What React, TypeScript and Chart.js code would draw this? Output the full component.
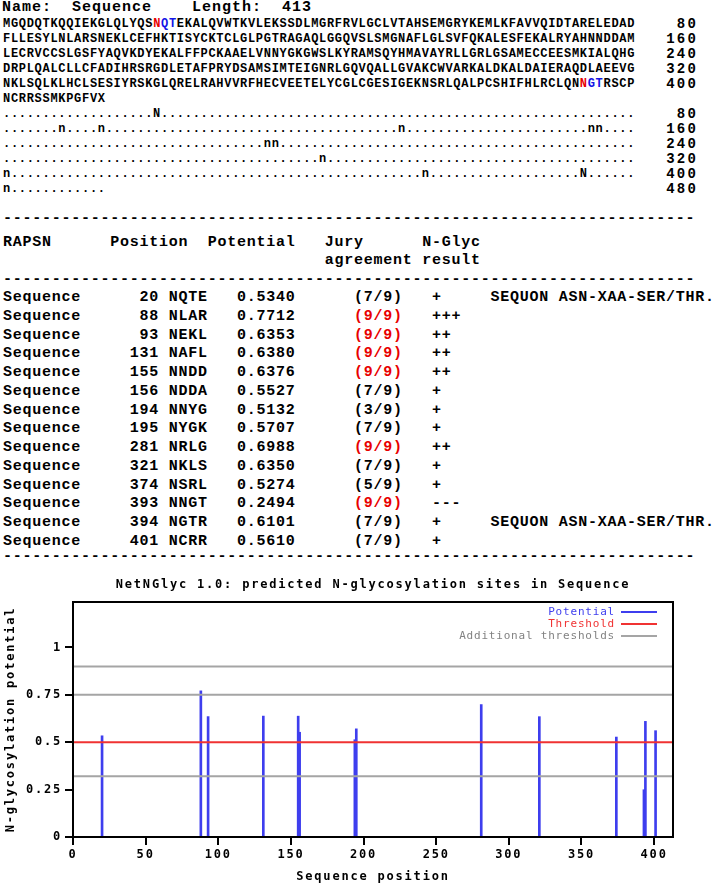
import React, { useEffect, useRef } from 'react';
import { Chart, registerables } from 'chart.js';

Chart.register(...registerables);

// ---------------- data ----------------
const seqName = 'Sequence';
const seqLength = 413;
const proteinName = 'RAPSN';

const seqLines = [
  'MGQDQTKQQIEKGLQLYQSNQTEKALQVWTKVLEKSSDLMGRFRVLGCLVTAHSEMGRYKEMLKFAVVQIDTARELEDAD',
  'FLLESYLNLARSNEKLCEFHKTISYCKTCLGLPGTRAGAQLGGQVSLSMGNAFLGLSVFQKALESFEKALRYAHNNDDAM',
  'LECRVCCSLGSFYAQVKDYEKALFFPCKAAELVNNYGKGWSLKYRAMSQYHMAVAYRLLGRLGSAMECCEESMKIALQHG',
  'DRPLQALCLLCFADIHRSRGDLETAFPRYDSAMSIMTEIGNRLGQVQALLGVAKCWVARKALDKALDAIERAQDLAEEVG',
  'NKLSQLKLHCLSESIYRSKGLQRELRAHVVRFHECVEETELYCGLCGESIGEKNSRLQALPCSHIFHLRCLQNNGTRSCP',
  'NCRRSSMKPGFVX',
];
const seqLineEnds = ['80', '160', '240', '320', '400', ''];

const markLines = [
  '...................N............................................................',
  '.......n....n.....................................n.......................nn....',
  '.................................nn.............................................',
  '........................................n.......................................',
  'n....................................................n...................N......',
  'n............',
];
const markLineEnds = ['80', '160', '240', '320', '400', '480'];

const sitePositions = [20, 88, 93, 131, 155, 156, 194, 195, 281, 321, 374, 393, 394, 401];
const siteMotifs = ['NQTE', 'NLAR', 'NEKL', 'NAFL', 'NNDD', 'NDDA', 'NNYG', 'NYGK', 'NRLG', 'NKLS', 'NSRL', 'NNGT', 'NGTR', 'NCRR'];
const sitePotentials = [0.534, 0.7712, 0.6353, 0.638, 0.6376, 0.5527, 0.5132, 0.5707, 0.6988, 0.635, 0.5274, 0.2494, 0.6101, 0.561];
const siteJury = ['(7/9)', '(9/9)', '(9/9)', '(9/9)', '(9/9)', '(7/9)', '(3/9)', '(7/9)', '(9/9)', '(7/9)', '(5/9)', '(9/9)', '(7/9)', '(7/9)'];
const siteResults = ['+', '+++', '++', '++', '++', '+', '+', '+', '++', '+', '+', '---', '+', '+'];
const siteComments = ['SEQUON ASN-XAA-SER/THR.', '', '', '', '', '', '', '', '', '', '', '', 'SEQUON ASN-XAA-SER/THR.', ''];

const chartTitle = 'NetNGlyc 1.0: predicted N-glycosylation sites in Sequence';
const xAxisTitle = 'Sequence position';
const yAxisTitle = 'N-glycosylation potential';
const thresholdValue = 0.5;
const additionalThresholds = [0.32, 0.75, 0.9];
const legendLabels = ['Potential', 'Threshold', 'Additional thresholds'];
const xTickStep = 50;
const yTickStep = 0.25;
const yMax = 1.24;

// ---------------- styles ----------------
const MONO = '"Liberation Mono", "DejaVu Sans Mono", monospace';
const CHART_FONT = '"DejaVu Sans Mono", monospace';
const RED_TXT = '#e80000';
const BLUE_TXT = '#1414e6';
const BAR_BLUE = 'rgb(62,62,238)';
const LINE_RED = 'rgb(240,50,50)';
const LINE_GRAY = 'rgb(165,165,165)';
const LEGEND_COLORS = [BAR_BLUE, LINE_RED, 'rgb(130,130,130)'];

type LineProps = {
  x?: number;
  right?: number;
  y: number;
  size: number;
  pitch: number;
  lh?: number;
  children: any;
};

function TextLine({ x, right, y, size, pitch, lh, children }: LineProps) {
  const h = lh ?? Math.round(size * 1.3);
  const style: any = {
    position: 'absolute',
    top: y - h / 2,
    height: h,
    lineHeight: h + 'px',
    fontSize: size,
    letterSpacing: (pitch - 0.6 * size).toFixed(2) + 'px',
    fontFamily: MONO,
    fontWeight: 700,
    whiteSpace: 'pre',
    color: '#000',
  };
  if (right !== undefined) {
    style.left = right - 200;
    style.width = 200;
    style.textAlign = 'right';
  } else {
    style.left = x;
  }
  return <div style={style}>{children}</div>;
}

const sequonSites = sitePositions.filter((_, i) => siteComments[i].indexOf('SEQUON') === 0);

function renderSeq(line: string, start: number) {
  const colorAt = (pos: number) =>
    sequonSites.includes(pos) ? RED_TXT : sequonSites.includes(pos - 1) || sequonSites.includes(pos - 2) ? BLUE_TXT : '';
  const parts: any[] = [];
  let buf = '';
  let cur = '';
  for (let i = 0; i < line.length; i++) {
    const c = colorAt(start + i);
    if (c !== cur && buf) {
      parts.push(<span key={parts.length} style={cur ? { color: cur } : undefined}>{buf}</span>);
      buf = '';
    }
    cur = c;
    buf += line[i];
  }
  if (buf) parts.push(<span key={parts.length} style={cur ? { color: cur } : undefined}>{buf}</span>);
  return parts;
}

function TextBlock() {
  const seqY = (k: number) => 24 + 15 * k;
  const rowY = (k: number) => 298.3 + 18.72 * k;
  const dashes = '-'.repeat(71);
  const TABLE = { size: 15, pitch: 9.75 };
  return (
    <>
      <TextLine x={2} y={8} size={15} pitch={10}>
        {`Name:  ${seqName}    Length:  ${seqLength}`}
      </TextLine>
      {seqLines.map((l, k) => (
        <TextLine key={'s' + k} x={3} y={seqY(k)} size={12} pitch={7.9}>
          {renderSeq(l, k * 80 + 1)}
        </TextLine>
      ))}
      {seqLineEnds.map((t, k) =>
        t ? (
          <TextLine key={'se' + k} right={698} y={seqY(k)} size={14} pitch={10.6}>
            {t}
          </TextLine>
        ) : null
      )}
      {markLines.map((l, k) => (
        <TextLine key={'m' + k} x={3} y={seqY(6 + k)} size={12} pitch={7.9}>
          {l}
        </TextLine>
      ))}
      {markLineEnds.map((t, k) => (
        <TextLine key={'me' + k} right={698} y={seqY(6 + k)} size={14} pitch={10.6}>
          {t}
        </TextLine>
      ))}
      <TextLine x={3} y={219} {...TABLE}>{dashes}</TextLine>
      <TextLine x={3} y={242.5} {...TABLE}>
        {`${proteinName}      Position  Potential   Jury      N-Glyc`}
      </TextLine>
      <TextLine x={3} y={261} {...TABLE}>
        {' '.repeat(33) + 'agreement result'}
      </TextLine>
      <TextLine x={3} y={280} {...TABLE}>{dashes}</TextLine>
      {sitePositions.map((p, k) => {
        const jury = siteJury[k];
        const strong = jury === '(9/9)';
        return (
          <TextLine key={'r' + k} x={3} y={rowY(k)} {...TABLE}>
            {`${seqName}${String(p).padStart(8)} ${siteMotifs[k]}   ${sitePotentials[k].toFixed(4)}      `}
            <span style={strong ? { color: RED_TXT } : undefined}>{jury}</span>
            {`   ${siteResults[k].padEnd(6)}${siteComments[k]}`}
          </TextLine>
        );
      })}
      <TextLine x={3} y={557} {...TABLE}>{dashes}</TextLine>
    </>
  );
}

function GlycChart() {
  const ref = useRef<HTMLCanvasElement>(null);
  useEffect(() => {
    const canvas = ref.current;
    if (!canvas) return;
    const SPACING = '1.8px';
    const spacingPlugin = {
      id: 'spacing',
      beforeUpdate(c: any) {
        c.ctx.letterSpacing = SPACING;
      },
      beforeDraw(c: any) {
        c.ctx.letterSpacing = SPACING;
      },
    };
    const overlayPlugin = {
      id: 'frameAndLegend',
      afterDraw(c: any) {
        const { ctx, chartArea: a } = c;
        ctx.save();
        ctx.strokeStyle = '#000';
        ctx.lineWidth = 2;
        ctx.strokeRect(a.left, a.top, a.right - a.left, a.bottom - a.top);
        ctx.restore();

        ctx.save();
        ctx.font = `11px ${CHART_FONT}`;
        ctx.letterSpacing = '0.8px';
        ctx.textAlign = 'right';
        ctx.textBaseline = 'middle';
        legendLabels.forEach((label, i) => {
          const y = a.top + 10 + i * 12;
          const col = LEGEND_COLORS[i];
          ctx.fillStyle = col;
          ctx.fillText(label, a.right - 58, y);
          ctx.strokeStyle = i === 2 ? LINE_GRAY : col;
          ctx.lineWidth = 2;
          ctx.beginPath();
          ctx.moveTo(a.right - 52, y);
          ctx.lineTo(a.right - 16, y);
          ctx.stroke();
        });
        ctx.restore();
      },
    };

    const hLine = (v: number, color: string, label: string) => ({
      type: 'line' as const,
      label,
      data: [
        { x: 0, y: v },
        { x: seqLength, y: v },
      ],
      borderColor: color,
      borderWidth: 2,
      pointRadius: 0,
      fill: false,
      order: 0,
    });

    const tickFont = { family: CHART_FONT, size: 12, weight: 'bold' as const };

    const chart = new Chart(canvas, {
      type: 'bar',
      data: {
        datasets: [
          hLine(thresholdValue, LINE_RED, 'Threshold'),
          ...additionalThresholds.map((t) => hLine(t, LINE_GRAY, 'Additional thresholds')),
          {
            type: 'bar' as const,
            label: 'Potential',
            data: sitePositions.map((p, i) => ({ x: p, y: sitePotentials[i] })),
            backgroundColor: BAR_BLUE,
            borderWidth: 0,
            barThickness: 2,
            order: 1,
          },
        ] as any,
      },
      options: {
        responsive: false,
        animation: false,
        devicePixelRatio: 1,
        layout: { padding: { left: 0, right: 39, top: 0, bottom: 0 } },
        plugins: {
          legend: { display: false },
          tooltip: { enabled: false },
          title: {
            display: true,
            text: chartTitle,
            color: '#000',
            fullSize: false,
            font: { family: CHART_FONT, size: 12, weight: 'bold' },
            padding: { top: 13, bottom: 9.6 },
          },
        },
        scales: {
          x: {
            type: 'linear',
            min: 0,
            max: seqLength,
            offset: false,
            afterFit: (s: any) => {
              s.height = 47;
            },
            ticks: {
              stepSize: xTickStep,
              includeBounds: false,
              autoSkip: false,
              maxRotation: 0,
              color: '#000',
              font: tickFont,
              padding: 3,
            },
            grid: { offset: false, drawOnChartArea: false, tickLength: 8, color: '#000', lineWidth: 2 },
            border: { display: true, color: '#000', width: 2 },
            title: {
              display: true,
              text: xAxisTitle,
              color: '#000',
              font: tickFont,
              padding: { top: 0, bottom: 0 },
            },
          },
          y: {
            type: 'linear',
            min: 0,
            max: yMax,
            afterFit: (s: any) => {
              s.width = 73;
            },
            ticks: {
              stepSize: yTickStep,
              includeBounds: false,
              color: '#000',
              font: tickFont,
              padding: 3,
              callback: (v: any) => String(Math.round(Number(v) * 100) / 100),
            },
            grid: { drawOnChartArea: false, tickLength: 8, color: '#000', lineWidth: 2 },
            border: { display: true, color: '#000', width: 2 },
            title: {
              display: true,
              text: yAxisTitle,
              color: '#000',
              font: tickFont,
              padding: { top: 4, bottom: 0 },
            },
          },
        },
      } as any,
      plugins: [spacingPlugin, overlayPlugin],
    });
    return () => chart.destroy();
  }, []);
  return (
    <canvas
      ref={ref}
      width={712}
      height={319}
      style={{ position: 'absolute', left: 0, top: 565, width: 712, height: 319 }}
    />
  );
}

export default function App() {
  return (
    <div
      style={{
        position: 'absolute',
        left: 0,
        top: 0,
        width: 712,
        height: 884,
        overflow: 'hidden',
        background: '#fff',
      }}
    >
      <TextBlock />
      <GlycChart />
    </div>
  );
}
